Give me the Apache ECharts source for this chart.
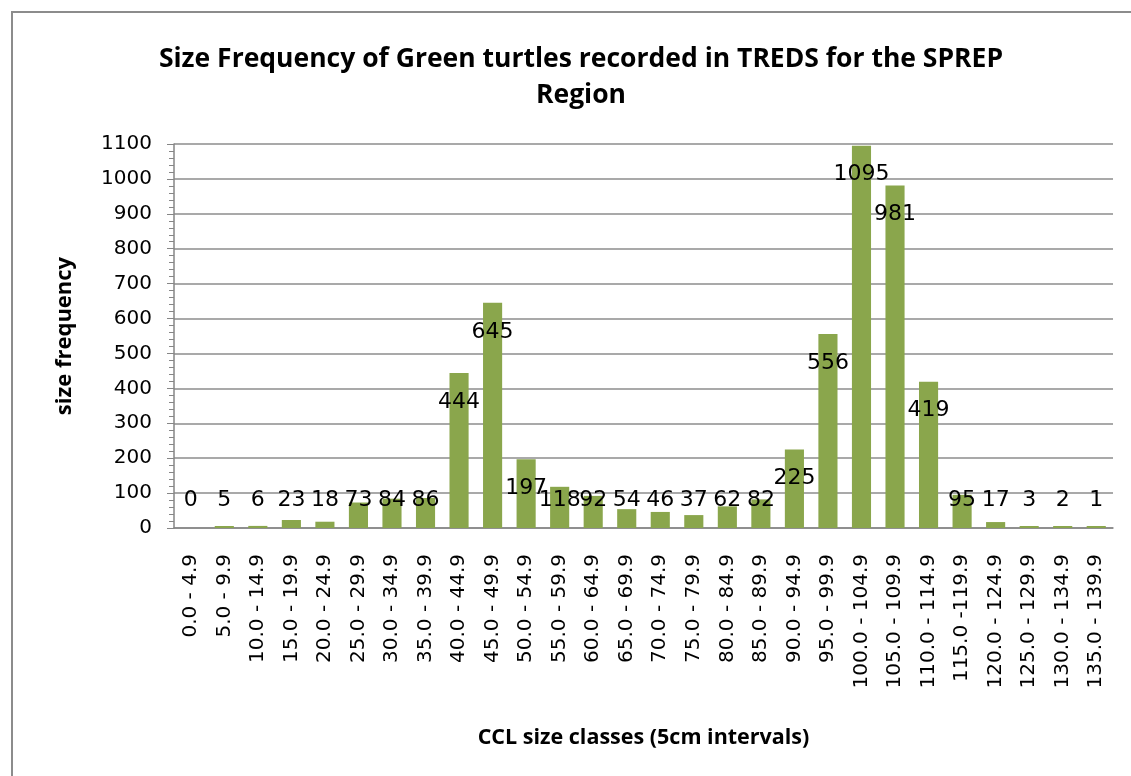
<!DOCTYPE html>
<html>
<head>
<meta charset="utf-8">
<script src="https://cdn.jsdelivr.net/npm/echarts@6/dist/echarts.min.js"></script>
<style>
  html, body { margin: 0; padding: 0; background: #fff; }
  #main { width: 1131px; height: 776px; }
</style>
</head>
<body>
<div id="main"></div>
<script>
// size classes (5cm)
var sizeClasses = [
  "0.0 - 4.9", "5.0 - 9.9", "10.0 - 14.9", "15.0 - 19.9", "20.0 - 24.9",
  "25.0 - 29.9", "30.0 - 34.9", "35.0 - 39.9", "40.0 - 44.9", "45.0 - 49.9",
  "50.0 - 54.9", "55.0 - 59.9", "60.0 - 64.9", "65.0 - 69.9", "70.0 - 74.9",
  "75.0 - 79.9", "80.0 - 84.9", "85.0 - 89.9", "90.0 - 94.9", "95.0 - 99.9",
  "100.0 - 104.9", "105.0 - 109.9", "110.0 - 114.9", "115.0 -119.9", "120.0 - 124.9",
  "125.0 - 129.9", "130.0 - 134.9", "135.0 - 139.9"
];
var frequency = [
  0, 5, 6, 23, 18, 73, 84, 86, 444, 645,
  197, 118, 92, 54, 46, 37, 62, 82, 225, 556,
  1095, 981, 419, 95, 17, 3, 2, 1
];
var yTicks = { min: 0, max: 1100, interval: 100 };

var myChart = echarts.init(document.getElementById("main"));

// short bars get their label sitting just above the axis, like excel does
var barData = frequency.map(function (v) {
  var small = v < 165;
  var item = {
    value: v,
    label: small
      ? { position: "insideBottom", distance: 17 }
      : { position: "insideTop", distance: 18 }
  };
  // barMinHeight would draw a sliver for 0 too, make that one see-through
  if (v === 0) item.itemStyle = { color: "rgba(0,0,0,0)" };
  return item;
});

var option = {
  animation: false,
  title: {
    text: "Size Frequency of Green turtles recorded in TREDS for the SPREP\nRegion",
    left: 576,
    textAlign: "center",
    top: 36,
    textStyle: {
      fontFamily: "Open Sans",
      fontWeight: "bold",
      fontSize: 26.5,
      lineHeight: 36,
      color: "#000"
    }
  },
  graphic: [
    {
      type: "rect",
      shape: { x: 12, y: 12, width: 1140, height: 800 },
      style: { fill: "none", stroke: "#8c8c8c", lineWidth: 2 },
      silent: true
    }
  ],
  grid: {
    left: 174,
    right: 18,
    top: 144,
    bottom: 248
  },
  xAxis: [
    {
      type: "category",
      data: sizeClasses,
      name: "CCL size classes (5cm intervals)",
      nameLocation: "middle",
      nameGap: 199,
      nameTextStyle: {
        fontFamily: "Open Sans",
        fontWeight: "bold",
        fontSize: 21.5,
        color: "#000"
      },
      axisLine: { lineStyle: { color: "#868686", width: 1.5 } },
      axisTick: { length: 7, lineStyle: { color: "#868686" } },
      axisLabel: {
        interval: 0,
        rotate: 90,
        margin: 26,
        fontFamily: "DejaVu Sans",
        fontSize: 20,
        color: "#000"
      }
    },
    {
      // middle ticks under each bar
      type: "category",
      data: sizeClasses,
      position: "bottom",
      axisLine: { show: false },
      axisTick: { alignWithLabel: true, length: 5, lineStyle: { color: "#868686" } },
      axisLabel: { show: false }
    }
  ],
  yAxis: {
    type: "value",
    min: yTicks.min,
    max: yTicks.max,
    interval: yTicks.interval,
    name: "size frequency",
    nameLocation: "middle",
    nameGap: 98,
    nameTextStyle: {
      fontFamily: "Open Sans",
      fontWeight: "bold",
      fontSize: 22,
      color: "#000"
    },
    axisLine: { show: true, lineStyle: { color: "#868686", width: 1.5 } },
    axisTick: { show: true, length: 7, lineStyle: { color: "#868686" } },
    minorTick: { show: true, splitNumber: 5, length: 5, lineStyle: { color: "#868686" } },
    splitLine: { lineStyle: { color: "#8c8c8c", width: 1.5 } },
    axisLabel: {
      margin: 22,
      fontFamily: "DejaVu Sans",
      fontSize: 20,
      color: "#000",
      formatter: function (v) { return String(v); }
    }
  },
  series: [
    {
      name: "size frequency",
      type: "bar",
      data: barData,
      barCategoryGap: "43%",
      barMinHeight: 2,
      itemStyle: { color: "#8aa64c" },
      label: {
        show: true,
        fontFamily: "DejaVu Sans",
        fontSize: 22,
        color: "#000"
      }
    }
  ]
};

myChart.setOption(option);
</script>
</body>
</html>
